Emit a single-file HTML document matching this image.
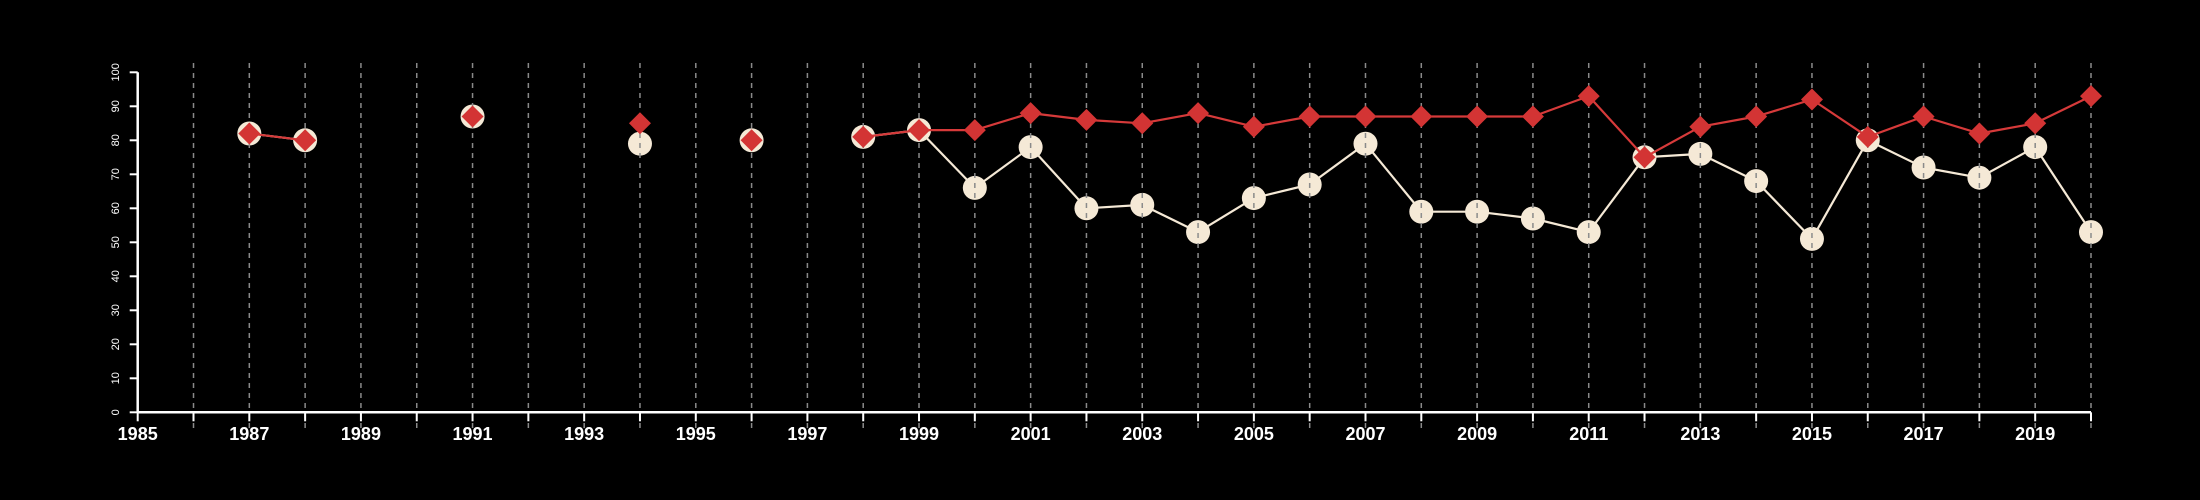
<!DOCTYPE html>
<html><head><meta charset="utf-8"><style>
html,body{margin:0;padding:0;background:#000;}
svg{display:block;font-family:"Liberation Sans",sans-serif;}
</style></head><body>
<svg id="chart" width="2200" height="500"></svg>
<script>
const years=[1987,1988,1989,1990,1991,1992,1993,1994,1995,1996,1997,1998,1999,2000,2001,2002,2003,2004,2005,2006,2007,2008,2009,2010,2011,2012,2013,2014,2015,2016,2017,2018,2019,2020];
const redValues=[82,80,null,null,87,null,null,85,null,80,null,81,83,83,88,86,85,88,84,87,87,87,87,87,93,75,84,87,92,81,87,82,85,93];
const whiteValues=[82,80,null,null,87,null,null,79,null,80,null,81,83,66,78,60,61,53,63,67,79,59,59,57,53,75,76,68,51,80,72,69,78,53];
const yTicks=[0,10,20,30,40,50,60,70,80,90,100];
const xLabelYears=[1985,1987,1989,1991,1993,1995,1997,1999,2001,2003,2005,2007,2009,2011,2013,2015,2017,2019];
const xMin=1985,xMax=2020;

const svg=document.getElementById('chart');
const NS='http://www.w3.org/2000/svg';
const X0=137.7,X1=2091,Y0=412.3,Y1=72.3;
const xs=v=>X0+(v-xMin)/(xMax-xMin)*(X1-X0);
const ys=v=>Y0+(v-0)/(100-0)*(Y1-Y0);
function mk(tag,attrs,parent){const e=document.createElementNS(NS,tag);for(const k in attrs)e.setAttribute(k,attrs[k]);(parent||svg).appendChild(e);return e;}

// white series
const gW=mk('g',{});


function drawLine(vals,color,g,name){
  for(let i=1;i<years.length;i++){
    if(vals[i]!=null&&vals[i-1]!=null&&years[i]-years[i-1]===1){
      const l=mk('line',{x1:xs(years[i-1]),y1:ys(vals[i-1]),x2:xs(years[i]),y2:ys(vals[i]),stroke:color,'stroke-width':2.2},g);
      
      
    }
  }
}
drawLine(whiteValues,'#f5e9d6',gW,'white-line');
whiteValues.forEach((v,i)=>{if(v==null)return;
  const c=mk('circle',{cx:xs(years[i]),cy:ys(v),r:12,fill:'#f5e9d6'},gW);
  
  
});

// grid
const gG=mk('g',{});


for(let y=1986;y<=2020;y++){
  const l=mk('line',{x1:xs(y),x2:xs(y),y1:63,y2:432,stroke:'#8a8a8a','stroke-width':1.5,'stroke-dasharray':'5,5'},gG);
  
  
}

// red series
const gR=mk('g',{});


drawLine(redValues,'#d63a3a',gR,'red-line');
redValues.forEach((v,i)=>{if(v==null)return;
  const x=xs(years[i]),y=ys(v),s=11;
  const p=mk('polygon',{points:`${x},${y-s} ${x+s},${y} ${x},${y+s} ${x-s},${y}`,fill:'#d33434'},gR);
  
  
});

// axes
const ax=mk('g',{});


const xl=mk('line',{x1:X0,x2:X1,y1:Y0,y2:Y0,stroke:'#fff','stroke-width':2.5},ax);


const yl=mk('line',{x1:X0,x2:X0,y1:Y0,y2:Y1,stroke:'#fff','stroke-width':2.5},ax);


for(let y=xMin;y<=xMax;y++){
  const t=mk('line',{x1:xs(y),x2:xs(y),y1:Y0,y2:Y0+9,stroke:'#fff','stroke-width':2},ax);
  
  
}
xLabelYears.forEach(y=>{
  const t=mk('text',{x:xs(y),y:440,fill:'#fff','font-size':18,'font-weight':'bold','text-anchor':'middle'},ax);
  t.textContent=y;
  
  
});
yTicks.forEach(v=>{
  const t=mk('line',{x1:X0-8,x2:X0,y1:ys(v),y2:ys(v),stroke:'#fff','stroke-width':2},ax);
  
  
  const tx=mk('text',{x:0,y:0,fill:'#fff','font-size':11,'text-anchor':'middle',transform:`translate(119,${ys(v)}) rotate(-90)`},ax);
  tx.textContent=v;
  
  
});
</script>
</body></html>
